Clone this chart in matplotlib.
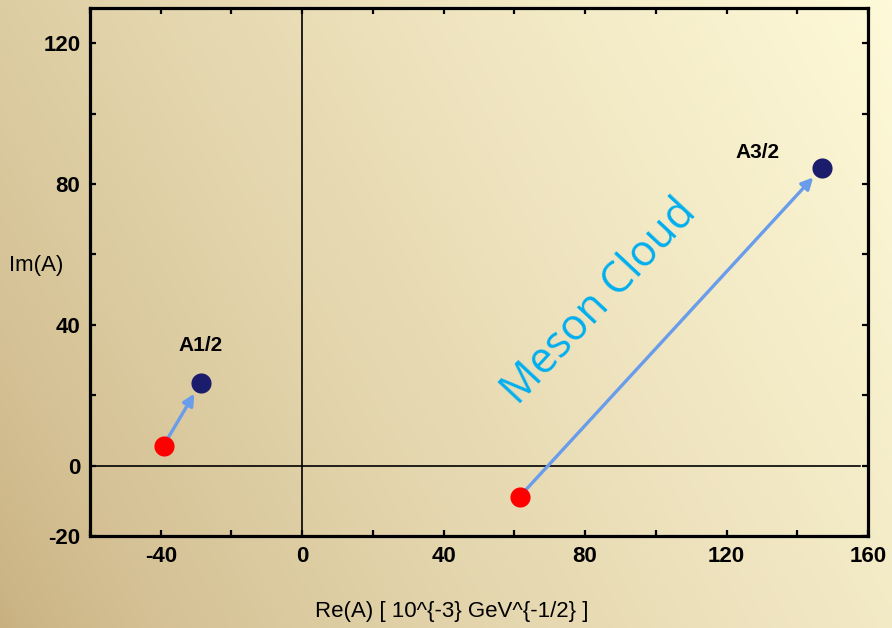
import numpy as np
import matplotlib
matplotlib.use("Agg")
import matplotlib.pyplot as plt
from matplotlib.colors import LinearSegmentedColormap

# Amplitudes (Re, Im) in units of 10^-3 GeV^-1/2
labels = ["A1/2", "A3/2"]
bare_re = [-39.2, 61.5]       # red points (quark core)
bare_im = [5.7, -8.8]
full_re = [-28.7, 146.9]      # dark blue points (with meson cloud)
full_im = [23.5, 84.5]

x_ticks = [-40, 0, 40, 80, 120, 160]
y_ticks = [-20, 0, 40, 80, 120]

W, H = 892, 628
fig = plt.figure(figsize=(W / 100, H / 100), dpi=100)

# Warm diagonal background gradient
bg = fig.add_axes([0, 0, 1, 1], zorder=-10)
u = np.linspace(0, 1, 300)
v = np.linspace(0, 1, 220)
U, V = np.meshgrid(u, v)
T = (0.72 * U + 0.28 * V) ** 0.72
cmap = LinearSegmentedColormap.from_list(
    "warm", [(200 / 255, 176 / 255, 128 / 255), (254 / 255, 249 / 255, 216 / 255)])
bg.imshow(T, cmap=cmap, origin="lower", aspect="auto", extent=[0, 1, 0, 1],
          vmin=0, vmax=1)
bg.axis("off")

ax = fig.add_axes([90 / W, 1 - 536 / H, (868 - 90) / W, (536 - 8) / H])
ax.set_facecolor("none")
ax.set_xlim(-60, 160)
ax.set_ylim(-20, 130)

for s in ax.spines.values():
    s.set_linewidth(2.3)

ax.axhline(0, xmax=0.99, color="black", lw=1.2, zorder=1)
ax.axvline(0, color="black", lw=1.2, zorder=1)

ax.set_xticks(np.arange(-60, 161, 20))
ax.set_xticklabels([str(t) if t in x_ticks else "" for t in np.arange(-60, 161, 20)])
ax.set_yticks(np.arange(-20, 121, 20))
ax.set_yticklabels([str(t) if t in y_ticks else "" for t in np.arange(-20, 121, 20)])
ax.tick_params(direction="in", length=4.5, width=1.6, top=True, right=True,
               labelsize=16, pad=7)
for lab in ax.get_xticklabels() + ax.get_yticklabels():
    lab.set_fontfamily("Liberation Sans")
    lab.set_fontweight("bold")

arrow_color = "#6a9cec"
for i in range(len(labels)):
    x0, y0 = bare_re[i], bare_im[i]
    x1, y1 = full_re[i], full_im[i]
    ax.annotate("", xy=(x1, y1), xytext=(x0, y0),
                arrowprops=dict(arrowstyle="-|>", color=arrow_color, lw=2.4,
                                mutation_scale=17, shrinkA=0, shrinkB=9),
                zorder=2)

ax.plot(bare_re, bare_im, "o", color="#ff0000", ms=14.5, mec="none", zorder=3)
ax.plot(full_re, full_im, "o", color="#1c1c6c", ms=14.5, mec="none", zorder=3)

ax.text(full_re[0], full_im[0] + 37 / 3.525, labels[0], ha="center", va="center",
        fontsize=15, fontweight="bold", family="Liberation Sans")
ax.text(full_re[1] - 18, full_im[1] + 4.5, labels[1], ha="center", va="center",
        fontsize=15, fontweight="bold", family="Liberation Sans")

ax.text(84, 46.5, "Meson Cloud", rotation=46.9, rotation_mode="anchor",
        ha="center", va="center", fontsize=31, color="#00aeef",
        family="Open Sans")

fig.text(452 / W, 1 - 611 / H, "Re(A) [ 10^{-3} GeV^{-1/2} ]", ha="center",
         va="center", fontsize=16, family="Liberation Sans")
fig.text(36 / W, 1 - 266 / H, "Im(A)", ha="center", va="center",
         fontsize=16, family="Liberation Sans")

fig.savefig("out.png", dpi=100)
